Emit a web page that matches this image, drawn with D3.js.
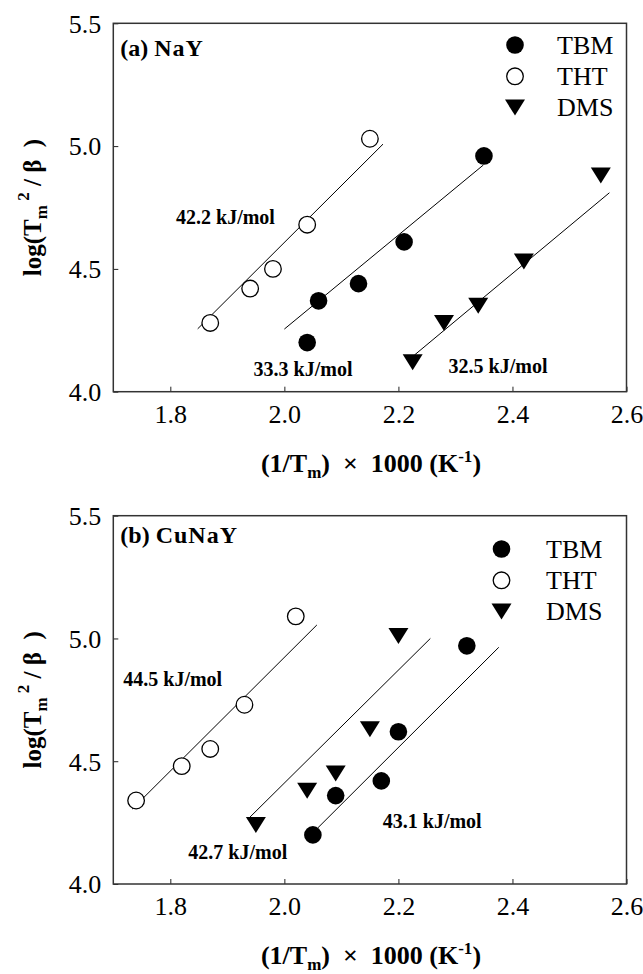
<!DOCTYPE html>
<html>
<head>
<meta charset="utf-8">
<script src="https://cdn.jsdelivr.net/npm/d3@7"></script>
<style>
  html, body { margin: 0; padding: 0; background: #fff; }
  svg { display: block; }
  svg text { font-family: "Liberation Serif", "Times New Roman", serif; }
</style>
</head>
<body>
<svg id="chart" width="643" height="974"></svg>
<script>
// ---- data ----
const xTicks = [1.8, 2.0, 2.2, 2.4, 2.6];
const yTicks = [4.0, 4.5, 5.0, 5.5];
const xDomain = [1.7, 2.6];
const yDomain = [4.0, 5.5];

const seriesNames = ["TBM", "THT", "DMS"];

// Panel (a) NaY
const nayTBM = [[2.04, 4.20], [2.06, 4.37], [2.13, 4.44], [2.21, 4.61], [2.35, 4.96]];
const nayTHT = [[1.87, 4.28], [1.94, 4.42], [1.98, 4.50], [2.04, 4.68], [2.15, 5.03]];
const nayDMS = [[2.225, 4.12], [2.28, 4.28], [2.34, 4.35], [2.42, 4.53], [2.555, 4.88]];
const nayFitTBM = [[2.00, 4.255], [2.349, 4.923]];
const nayFitTHT = [[1.848, 4.256], [2.173, 5.008]];
const nayFitDMS = [[2.228, 4.149], [2.570, 4.810]];
const nayEnergies = ["42.2 kJ/mol", "33.3 kJ/mol", "32.5 kJ/mol"];
const nayEnergyAt = [[1.81, 4.683], [1.946, 4.065], [2.288, 4.078]];

// Panel (b) CuNaY
const cuTBM = [[2.05, 4.20], [2.09, 4.36], [2.17, 4.42], [2.20, 4.62], [2.32, 4.97]];
const cuTHT = [[1.74, 4.34], [1.82, 4.48], [1.87, 4.55], [1.93, 4.73], [2.02, 5.09]];
const cuDMS = [[1.95, 4.24], [2.04, 4.38], [2.09, 4.45], [2.15, 4.63], [2.20, 5.01]];
const cuFitTBM = [[2.058, 4.227], [2.376, 4.964]];
const cuFitTHT = [[1.733, 4.305], [2.057, 5.055]];
const cuFitDMS = [[1.936, 4.264], [2.256, 5.000]];
const cuEnergies = ["44.5 kJ/mol", "42.7 kJ/mol", "43.1 kJ/mol"];
const cuEnergyAt = [[1.7175, 4.807], [1.8316, 4.10], [2.1726, 4.23]];

// ---- layout ----
const FONT = "'Liberation Serif', 'Times New Roman', serif";
const svg = d3.select("#chart");
const left = 113.3, right = 626.5;
const panels = [
  { title: ["(a) ", "NaY"], top: 23.3, bottom: 391.7, titleDy: 33,
    series: [nayTBM, nayTHT, nayDMS], fits: [nayFitTBM, nayFitTHT, nayFitDMS],
    energies: nayEnergies, energyAt: nayEnergyAt,
    legend: { x: 515, y: 45, tx: 557 } },
  { title: ["(b) ", "CuNaY"], top: 515.7, bottom: 884, titleDy: 27,
    series: [cuTBM, cuTHT, cuDMS], fits: [cuFitTBM, cuFitTHT, cuFitDMS],
    energies: cuEnergies, energyAt: cuEnergyAt,
    legend: { x: 501.5, y: 549, tx: 546 } }
];

const triPath = "M-10,-8L10,-8L0,8Z";

function drawMarker(sel, idx, x, y) {
  if (idx === 0) {
    sel.append("circle").attr("cx", x).attr("cy", y).attr("r", 8.8).attr("fill", "#000");
  } else if (idx === 1) {
    sel.append("circle").attr("cx", x).attr("cy", y).attr("r", 8.3)
      .attr("fill", "#fff").attr("stroke", "#000").attr("stroke-width", 1.3);
  } else {
    sel.append("path").attr("d", triPath).attr("transform", `translate(${x},${y})`).attr("fill", "#000");
  }
}

panels.forEach(p => {
  const x = d3.scaleLinear().domain(xDomain).range([left, right]);
  const y = d3.scaleLinear().domain(yDomain).range([p.bottom, p.top]);
  const g = svg.append("g").attr("font-family", FONT);

  // fit lines
  const line = d3.line().x(d => x(d[0])).y(d => y(d[1]));
  p.fits.forEach(f => {
    g.append("path").attr("d", line(f)).attr("fill", "none").attr("stroke", "#000").attr("stroke-width", 1);
  });

  // points
  p.series.forEach((s, i) => {
    s.forEach(d => drawMarker(g, i, x(d[0]), y(d[1])));
  });

  // axes: ticks inward
  const xAxis = d3.axisBottom(x).tickValues(xTicks).tickSizeInner(-5).tickSizeOuter(0)
    .tickFormat(d3.format(".1f")).tickPadding(13);
  const gx = g.append("g").attr("transform", `translate(0,${p.bottom})`).call(xAxis)
    .attr("font-family", FONT).attr("font-size", 26);
  gx.select(".domain").remove();
  gx.selectAll("line").attr("stroke", "#222").attr("stroke-width", 1);
  gx.selectAll("text").attr("fill", "#000").style("font-family", FONT).attr("dy", "0.71em");

  const yAxis = d3.axisLeft(y).tickValues(yTicks).tickSizeInner(-5).tickSizeOuter(0)
    .tickFormat(d3.format(".1f")).tickPadding(12);
  const gy = g.append("g").attr("transform", `translate(${left},0)`).call(yAxis)
    .attr("font-family", FONT).attr("font-size", 26);
  gy.select(".domain").remove();
  gy.selectAll("line").attr("stroke", "#222").attr("stroke-width", 1);
  gy.selectAll("text").attr("fill", "#000").style("font-family", FONT).attr("dy", "0.34em");

  // frame
  g.append("rect").attr("x", left).attr("y", p.top).attr("width", right - left)
    .attr("height", p.bottom - p.top).attr("fill", "none").attr("stroke", "#333").attr("stroke-width", 1.5);

  // panel title
  const t = g.append("text").attr("x", left + 7).attr("y", p.top + p.titleDy)
    .attr("font-size", 24).attr("font-weight", "bold");
  t.append("tspan").text(p.title[0]);
  t.append("tspan").text(p.title[1]).attr("letter-spacing", 1);

  // energy annotations
  p.energies.forEach((e, i) => {
    g.append("text").attr("x", x(p.energyAt[i][0])).attr("y", y(p.energyAt[i][1]))
      .attr("font-size", 20).attr("font-weight", "bold").text(e);
  });

  // legend
  seriesNames.forEach((n, i) => {
    const ly = p.legend.y + i * 31.3;
    drawMarker(g, i, p.legend.x, ly);
    g.append("text").attr("x", p.legend.tx).attr("y", ly + 8.5)
      .attr("font-size", 26).text(n);
  });

  // x-axis title
  const xt = g.append("text").attr("x", 371).attr("y", p.bottom + 80)
    .attr("text-anchor", "middle").attr("font-size", 26).attr("font-weight", "bold")
    .attr("xml:space", "preserve");
  xt.append("tspan").text("(1/T");
  xt.append("tspan").text("m").attr("font-size", 17).attr("dy", 6);
  xt.append("tspan").text(")  \u00d7  1000 (K").attr("dy", -6);
  xt.append("tspan").text("-1").attr("font-size", 17).attr("dy", -10);
  xt.append("tspan").text(")").attr("dy", 10);

  // y-axis title
  const cy = (p.top + p.bottom) / 2;
  const yt = g.append("text").attr("transform", `translate(41,${cy}) rotate(-90)`)
    .attr("text-anchor", "middle").attr("font-size", 25).attr("font-weight", "bold")
    .attr("xml:space", "preserve");
  yt.append("tspan").text("log(T");
  yt.append("tspan").text("m").attr("font-size", 17).attr("dy", 6);
  yt.append("tspan").text(" 2").attr("font-size", 17).attr("dy", -18);
  yt.append("tspan").text(" / \u03b2  )").attr("dy", 12);
});
</script>
</body>
</html>
